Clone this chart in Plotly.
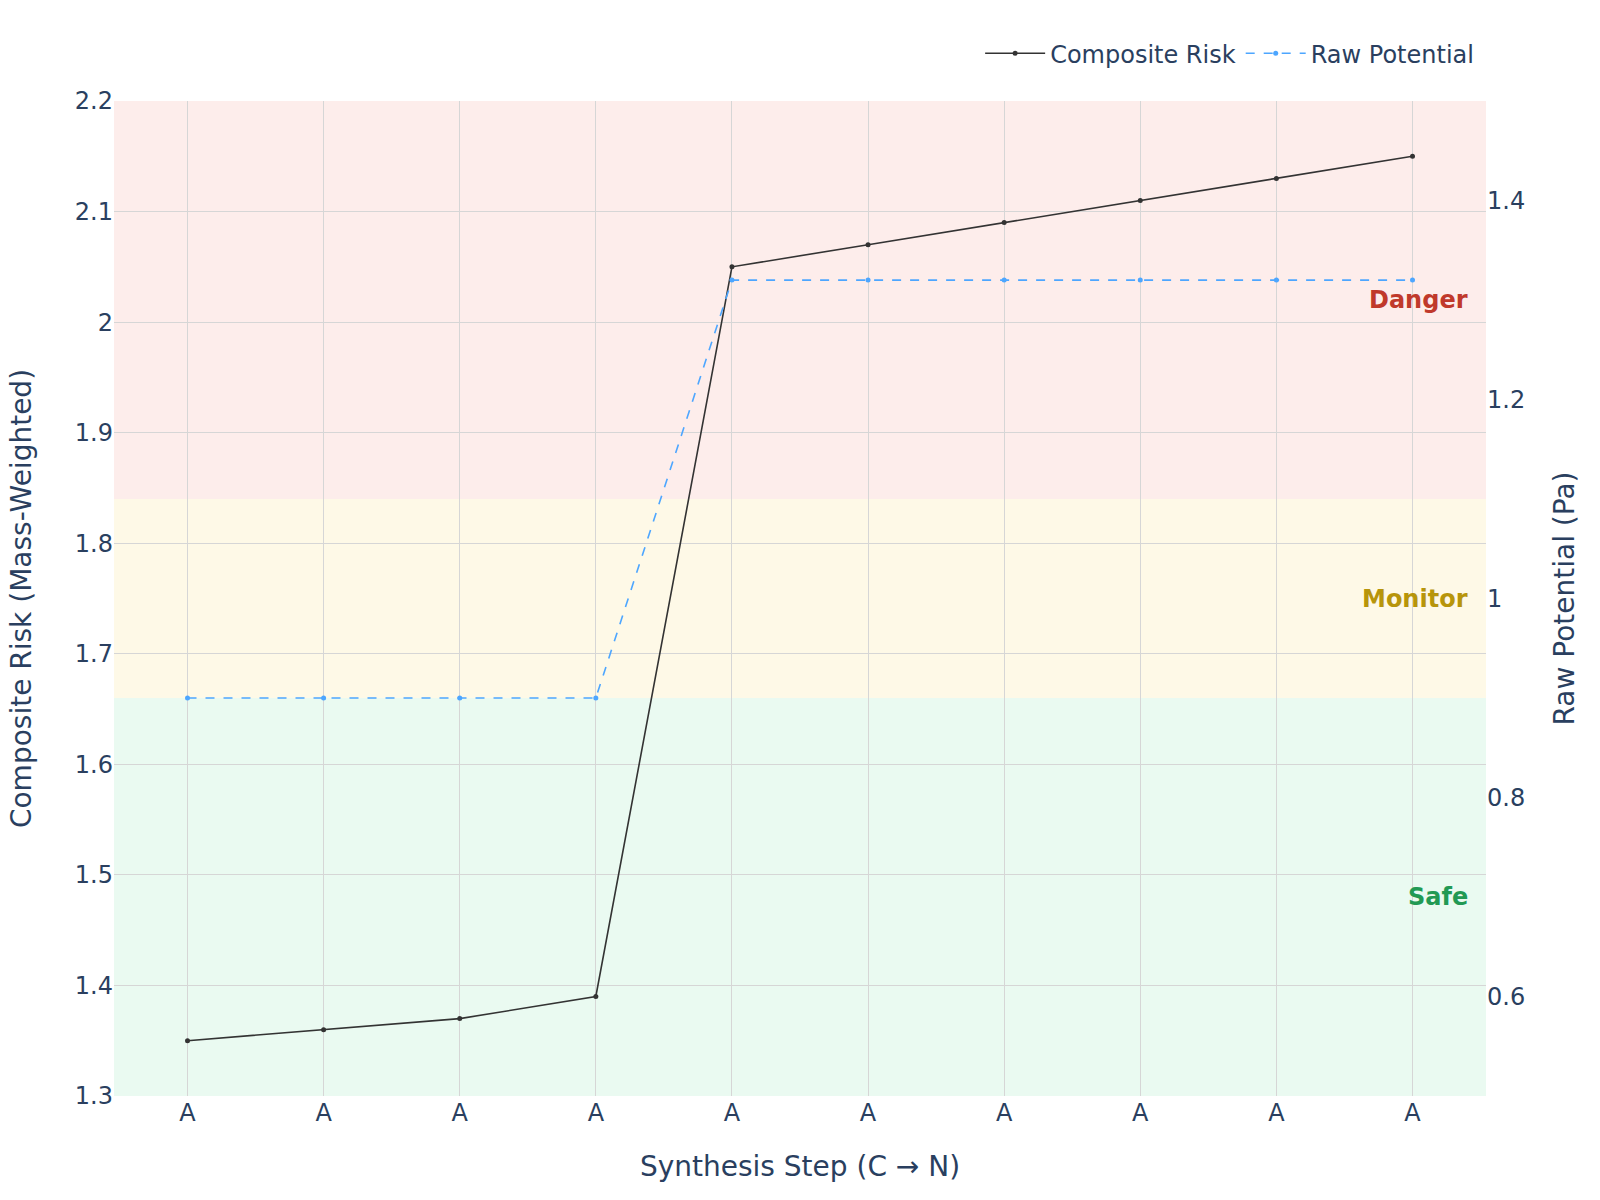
import plotly.graph_objects as go

steps = list(range(10))
residues = ["A", "A", "A", "A", "A", "A", "A", "A", "A", "A"]
composite_risk = [1.35, 1.36, 1.37, 1.39, 2.05, 2.07, 2.09, 2.11, 2.13, 2.15]
raw_potential = [0.9, 0.9, 0.9, 0.9, 1.32, 1.32, 1.32, 1.32, 1.32, 1.32]

zone_names = ["Safe", "Monitor", "Danger"]
zone_low = [0.5, 0.9, 1.1]
zone_high = [0.9, 1.1, 1.5]
zone_fill = ["rgba(46,204,113,0.1)", "rgba(241,196,15,0.1)", "rgba(231,76,60,0.1)"]
zone_text_color = ["#229954", "#b7950b", "#c0392b"]

FONT = "Verdana, DejaVu Sans, sans-serif"

fig = go.Figure()
fig.add_trace(go.Scatter(
    x=steps, y=composite_risk, name="Composite Risk", mode="lines+markers",
    line=dict(color="#333333", width=1.6), marker=dict(size=5, color="#333333"),
))
fig.add_trace(go.Scatter(
    x=steps, y=raw_potential, name="Raw Potential", mode="lines+markers",
    line=dict(color="#4da6ff", width=1.6, dash="dash"), marker=dict(size=5, color="#4da6ff"),
    yaxis="y2",
))

for lo, hi, fc, name, tc in zip(zone_low, zone_high, zone_fill, zone_names, zone_text_color):
    fig.add_shape(type="rect", xref="paper", yref="y2", x0=0, x1=1, y0=lo, y1=hi,
                  fillcolor=fc, line=dict(width=0), layer="below")
    fig.add_annotation(xref="paper", yref="y2", x=1, y=(lo + hi) / 2, text=f"<b>{name}</b>",
                       showarrow=False, xanchor="right", xshift=-16,
                       font=dict(family=FONT, size=24, color=tc))

fig.update_layout(
    width=1600, height=1200,
    margin=dict(l=114, r=114, t=101, b=104),
    paper_bgcolor="white", plot_bgcolor="white",
    font=dict(family=FONT, color="#2a3f5f", size=24),
    legend=dict(orientation="h", x=0.995, xanchor="right", y=1.025, yanchor="bottom",
                font=dict(size=24), itemwidth=60),
    xaxis=dict(
        title=dict(text="Synthesis Step (C → N)", font=dict(size=28), standoff=30),
        tickvals=steps, ticktext=residues, range=[-0.54, 9.54],
        showgrid=True, gridcolor="#d6d6d6", zeroline=False, tickfont=dict(size=24),
    ),
    yaxis=dict(
        title=dict(text="Composite Risk (Mass-Weighted)", font=dict(size=28), standoff=35),
        range=[1.3, 2.2], dtick=0.1, showgrid=True, gridcolor="#d6d6d6",
        zeroline=False, tickfont=dict(size=24),
    ),
    yaxis2=dict(
        title=dict(text="Raw Potential (Pa)", font=dict(size=28), standoff=30),
        overlaying="y", side="right", range=[0.5, 1.5], showgrid=False,
        zeroline=False, tickfont=dict(size=24),
    ),
)

fig.write_html("out.html")
